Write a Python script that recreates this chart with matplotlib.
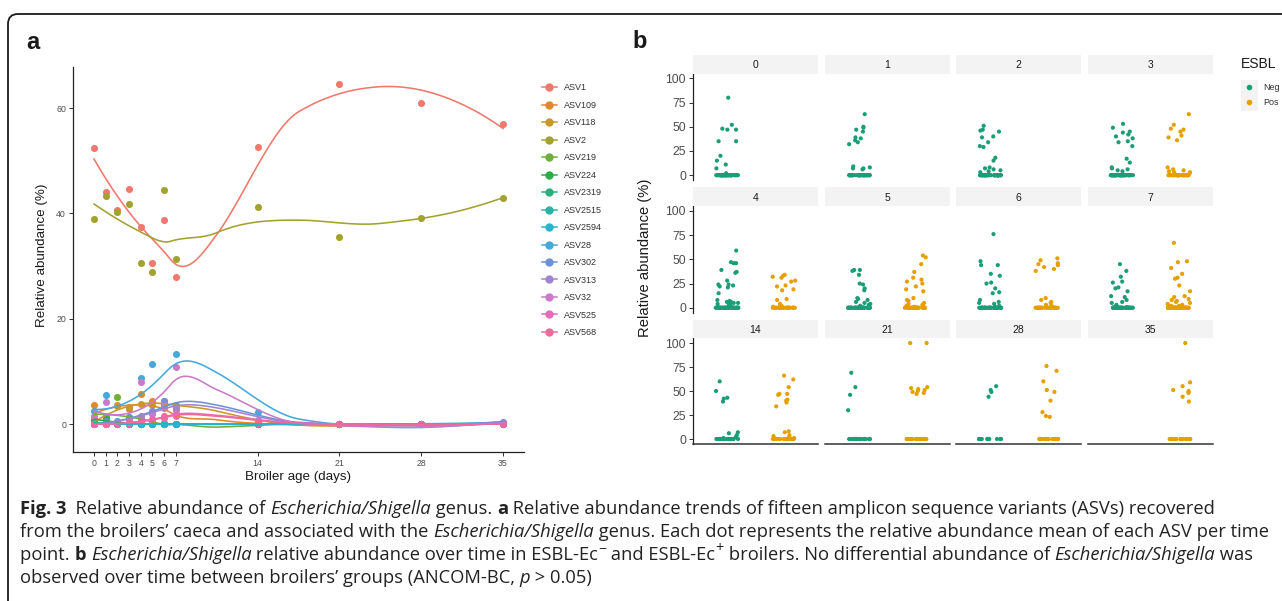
import numpy as np
import matplotlib
matplotlib.use('Agg')
import matplotlib.pyplot as plt
from matplotlib.lines import Line2D
from matplotlib.patches import FancyBboxPatch, Rectangle
import seaborn as sns

# ---------------- data ----------------
days = [0, 1, 2, 3, 4, 5, 6, 7, 14, 21, 28, 35]
asv_names = ['ASV1', 'ASV109', 'ASV118', 'ASV2', 'ASV219', 'ASV224', 'ASV2319', 'ASV2515',
             'ASV2594', 'ASV28', 'ASV302', 'ASV313', 'ASV32', 'ASV525', 'ASV568']
asv_colors = ['#F1786C', '#E0892A', '#C8982A', '#A2A22E', '#6FAF3A', '#2BAE4A', '#2BB07C', '#2BB3A6',
              '#2BB2CE', '#47A8DC', '#6B92D6', '#A283D2', '#C97BC9', '#E56CB7', '#EE6A9C']
# mean relative abundance (%) per ASV, one value per day
asv_values = [
    [52.4, 44.0, 40.6, 44.6, 37.4, 30.5, 38.7, 27.9, 52.7, 64.6, 61.0, 56.9],  # ASV1
    [3.7, 0.0, 3.7, 2.8, 5.7, 4.4, 0.3, 2.7, 0.0, 0.0, 0.0, 0.0],            # ASV109
    [0.5, 1.0, 3.5, 3.3, 3.9, 3.7, 3.7, 3.7, 0.0, 0.0, 0.0, 0.0],            # ASV118
    [38.9, 43.4, 40.3, 41.8, 30.6, 28.9, 44.4, 31.3, 41.3, 35.6, 39.2, 43.0],  # ASV2
    [1.0, 1.5, 5.2, 0.0, 0.0, 0.0, 0.0, 0.0, 0.0, 0.0, 0.0, 0.0],            # ASV219
    [0.8, 1.0, 0.0, 0.3, 0.0, 0.0, 0.0, 0.0, 0.0, 0.0, 0.0, 0.0],            # ASV224
    [0.2, 0.3, 0.0, 0.0, 0.0, 0.0, 0.0, 0.0, 0.1, 0.0, 0.0, 0.0],            # ASV2319
    [0.0, 0.2, 0.1, 0.0, 0.0, 0.0, 0.0, 0.0, 0.0, 0.0, 0.0, 0.0],            # ASV2515
    [0.1, 0.0, 0.0, 0.0, 0.0, 0.0, 0.0, 0.0, 0.0, 0.0, 0.0, 0.3],            # ASV2594
    [2.5, 5.5, 0.6, 1.3, 8.8, 11.5, 4.4, 13.4, 2.3, 0.0, 0.0, 0.3],          # ASV28
    [0.0, 0.5, 0.3, 1.3, 1.0, 2.5, 4.4, 3.5, 0.8, 0.0, 0.0, 0.4],            # ASV302
    [0.0, 0.3, 0.2, 0.8, 1.5, 2.2, 3.8, 3.0, 0.6, 0.0, 0.0, 0.2],            # ASV313
    [1.5, 4.2, 0.3, 0.5, 7.9, 2.0, 3.0, 10.8, 0.5, 0.0, 0.0, 0.0],           # ASV32
    [0.0, 0.0, 0.0, 0.3, 0.5, 1.0, 1.2, 2.0, 0.4, 0.0, 0.0, 0.0],            # ASV525
    [0.0, 0.0, 0.2, 0.2, 0.4, 0.8, 1.5, 1.6, 0.3, 0.0, 0.0, 0.0],            # ASV568
]

# panel b: per-sample Escherichia/Shigella relative abundance (%), non-zero values
b_days = [0, 1, 2, 3, 4, 5, 6, 7, 14, 21, 28, 35]
b_neg = [
    [80, 52, 48, 47, 47, 35, 35, 20, 15, 11, 7, 2],
    [63, 50, 49, 47, 45, 39, 38, 36, 34, 32, 9, 8, 7, 7, 6],
    [51, 47, 46, 45, 40, 39, 34, 30, 29, 18, 15, 8, 7, 6, 5, 4, 3],
    [53, 49, 45, 44, 42, 40, 38, 35, 34, 30, 17, 13, 8, 7, 6, 5, 4],
    [59, 47, 46, 46, 39, 37, 36, 28, 24, 24, 23, 22, 21, 15, 8, 7, 6, 6, 5, 5, 4, 3, 3, 2],
    [39, 39, 38, 34, 25, 24, 20, 18, 10, 9, 8, 6, 5, 4, 3, 2],
    [76, 48, 44, 44, 35, 33, 26, 25, 20, 16, 15, 8, 6, 5, 4, 2],
    [45, 38, 32, 27, 26, 21, 20, 17, 12, 11, 8, 6, 5, 3, 2],
    [60, 50, 43, 42, 39, 7, 6, 4, 2, 1],
    [69, 54, 46, 30],
    [55, 51, 49, 44],
    [],
]
b_pos = [
    [], [], [],
    [63, 52, 48, 47, 45, 41, 39, 36, 8, 6, 5, 4, 3, 3, 2],
    [34, 33, 32, 31, 28, 27, 23, 22, 19, 18, 9, 8, 4, 3, 2, 1],
    [54, 52, 45, 37, 31, 29, 27, 25, 22, 19, 17, 10, 8, 7, 5, 4, 3, 2, 2, 1],
    [51, 49, 46, 45, 44, 42, 40, 38, 10, 8, 6, 5, 3, 2],
    [67, 48, 47, 41, 35, 31, 30, 23, 17, 12, 11, 9, 8, 7, 6, 5, 4, 3, 2, 2, 1],
    [66, 62, 54, 47, 47, 46, 41, 40, 38, 34, 8, 7, 4, 3, 2, 1],
    [100, 100, 54, 53, 52, 51, 50, 49, 48, 47],
    [76, 71, 60, 51, 49, 40, 28, 24, 23],
    [100, 59, 55, 51, 50, 49, 48, 44, 39],
]
# number of samples with zero abundance
b_neg_zeros = [45, 40, 45, 45, 50, 35, 35, 45, 25, 20, 12, 0]
b_pos_zeros = [0, 0, 0, 30, 25, 30, 25, 40, 30, 25, 20, 20]
esbl_groups = ['Neg', 'Pos']
esbl_colors = {'Neg': '#1B9E77', 'Pos': '#E69F00'}

# ---------------- helpers ----------------
W, H = 1282, 601
FONT = ['Liberation Sans', 'DejaVu Sans']
CAPFONT = ['Liberation Sans Narrow', 'Open Sans', 'DejaVu Sans']


def box(left, top, right, bottom):
    return [left / W, 1 - bottom / H, (right - left) / W, (bottom - top) / H]


def local_fit(x, y, x0, span=0.75):
    # local quadratic with tricube weights -> value and slope at x0
    q = int(np.floor(len(x) * span))
    d = np.abs(x - x0)
    h = np.sort(d)[q - 1]
    w = np.clip(1 - (d / h) ** 3, 0, None) ** 3
    X = np.column_stack([np.ones_like(x), x - x0, (x - x0) ** 2])
    sw = np.sqrt(w)
    beta = np.linalg.lstsq(X * sw[:, None], y * sw, rcond=None)[0]
    return beta[0], beta[1]


def loess(x, y, grid):
    # fit at vertices, then cubic Hermite interpolation (like R loess surface="interpolate")
    x = np.asarray(x, float)
    y = np.asarray(y, float)
    ux = np.unique(x)
    verts = np.concatenate([[ux[0]], (ux[:-1] + ux[1:]) / 2, [ux[-1]]])
    fits = np.array([local_fit(x, y, v) for v in verts])
    out = []
    for g in grid:
        i = min(np.searchsorted(verts, g, side='right') - 1, len(verts) - 2)
        hh = verts[i + 1] - verts[i]
        t = (g - verts[i]) / hh
        y0, m0 = fits[i]
        y1, m1 = fits[i + 1]
        out.append((2 * t**3 - 3 * t**2 + 1) * y0 + (t**3 - 2 * t**2 + t) * hh * m0
                   + (-2 * t**3 + 3 * t**2) * y1 + (t**3 - t**2) * hh * m1)
    return np.array(out)


plt.rcParams['font.family'] = FONT
fig = plt.figure(figsize=(W / 100, H / 100), dpi=100)

# ---------------- panel a ----------------
ax = fig.add_axes(box(73, 67, 524, 452))
grid = np.linspace(0, 35, 120)
for name, col, vals in zip(asv_names, asv_colors, asv_values):
    ax.scatter(days, vals, s=26, color=col, zorder=3, linewidths=0)
for name, col, vals in zip(asv_names, asv_colors, asv_values):
    ax.plot(grid, loess(days, vals, grid), color=col, lw=1.15, zorder=4)

ax.set_xlim(-1.8, 36.8)
ax.set_ylim(-5.3, 67.8)
ax.set_xticks(days)
ax.set_yticks([0, 20, 40, 60])
ax.tick_params(labelsize=6.3, labelcolor='#4d4d4d', color='#333333', length=3, width=0.7, pad=2)
for s in ['top', 'right']:
    ax.spines[s].set_visible(False)
for s in ['left', 'bottom']:
    ax.spines[s].set_color('#222222')
    ax.spines[s].set_linewidth(0.9)

handles = [Line2D([], [], color=c, marker='o', markersize=5, lw=1.1) for c in asv_colors]
fig.legend(handles, asv_names, loc='upper left', bbox_to_anchor=(542 / W, 1 - 83.3 / H),
           frameon=False, fontsize=6.5, handlelength=1.66, handletextpad=0.78,
           labelspacing=0.94, borderpad=0, borderaxespad=0, labelcolor='#333333')

# ---------------- panel b ----------------
cols = [(693, 818), (825, 950), (956, 1081), (1088, 1213)]
rows = [(73.5, 180), (206, 312.6), (338.2, 443.8)]
strip_h = 18.5
np.random.seed(3)
for i, day in enumerate(b_days):
    r, c = divmod(i, 4)
    (x0, x1), (y0, y1) = cols[c], rows[r]
    bx = fig.add_axes(box(x0, y0, x1, y1))
    vals = b_neg[i] + [0] * b_neg_zeros[i] + b_pos[i] + [0] * b_pos_zeros[i]
    grp = ['Neg'] * (len(b_neg[i]) + b_neg_zeros[i]) + ['Pos'] * (len(b_pos[i]) + b_pos_zeros[i])
    sns.stripplot(x=grp, y=vals, hue=grp, order=esbl_groups, hue_order=esbl_groups,
                  palette=esbl_colors, jitter=0.2, size=3.0, linewidth=0, legend=False, ax=bx)
    bx.set_xlim(-0.6, 1.6)
    bx.set_ylim(-5, 105)
    bx.set_xlabel('')
    bx.set_ylabel('')
    bx.set_xticks([])
    bx.set_yticks([0, 25, 50, 75, 100])
    bx.tick_params(labelsize=8.8, labelcolor='#4d4d4d', color='#333333', length=3, width=0.7, pad=2)
    for s in ['top', 'right']:
        bx.spines[s].set_visible(False)
    if c == 0:
        bx.spines['left'].set_color('#222222')
        bx.spines['left'].set_linewidth(0.9)
    else:
        bx.spines['left'].set_visible(False)
        bx.tick_params(left=False, labelleft=False)
    if r == 2:
        bx.spines['bottom'].set_color('#333333')
        bx.spines['bottom'].set_linewidth(1.1)
    else:
        bx.spines['bottom'].set_visible(False)

    sx = fig.add_axes(box(x0, y0 - strip_h, x1, y0))
    sx.set_facecolor('#f3f3f3')
    sx.set_xticks([])
    sx.set_yticks([])
    for s in sx.spines.values():
        s.set_visible(False)
    sx.text(0.5, 0.45, str(day), ha='center', va='center', fontsize=7.5, color='#1a1a1a',
            transform=sx.transAxes)

esbl_handles = [Line2D([], [], color=esbl_colors[g], marker='o', ls='', markersize=3.0) for g in esbl_groups]
fig.legend(esbl_handles, esbl_groups, loc='upper left',
           bbox_to_anchor=(1243.6 / W, 1 - 82.7 / H), frameon=False, fontsize=6.5,
           handlelength=1.2, handletextpad=0.95, labelspacing=0.75,
           borderpad=0, borderaxespad=0, labelcolor='#333333')

# ---------------- overlay: frame, labels, caption ----------------
ov = fig.add_axes([0, 0, 1, 1], zorder=-1)
ov.set_xlim(0, W)
ov.set_ylim(H, 0)
ov.axis('off')
ov.add_patch(FancyBboxPatch((8, 14), 1400, 700, boxstyle='round,pad=0,rounding_size=10',
                            fill=False, lw=1.3, ec='#1a1a1a'))
ov.add_patch(Rectangle((1240.7, 80), 17.6, 31, color='#f3f3f3', lw=0))
ov.text(1241, 64, 'ESBL', fontsize=10, va='center', color='#1a1a1a')

ov.text(26, 49, 'a', fontsize=17, fontweight='bold', color='#1a1a1a', va='baseline')
ov.text(632, 48, 'b', fontsize=17, fontweight='bold', color='#1a1a1a', va='baseline')
ov.text(42, 255, 'Relative abundance (%)', rotation=90, ha='center', va='center',
        fontsize=9.6, color='#1a1a1a')
ov.text(298.5, 477, 'Broiler age (days)', ha='center', va='center', fontsize=9.6, color='#1a1a1a')
ov.text(645, 258, 'Relative abundance (%)', rotation=90, ha='center', va='center',
        fontsize=10.6, color='#1a1a1a')

cap_lines = [
    [('Fig. 3', 'b'), ('  Relative abundance of ', 'r'), ('Escherichia/Shigella', 'i'), (' genus. ', 'r'),
     ('a', 'b'), (' Relative abundance trends of fifteen amplicon sequence variants (ASVs) recovered', 'r')],
    [('from the broilers\u2019 caeca and associated with the ', 'r'), ('Escherichia/Shigella', 'i'),
     (' genus. Each dot represents the relative abundance mean of each ASV per time', 'r')],
    [('point. ', 'r'), ('b', 'b'), (' ', 'r'), ('Escherichia/Shigella', 'i'),
     (' relative abundance over time in ESBL-Ec', 'r'), ('\u2212', 'sup'), (' and ESBL-Ec', 'r'),
     ('+', 'sup'), (' broilers. No differential abundance of ', 'r'), ('Escherichia/Shigella', 'i'),
     (' was', 'r')],
    [('observed over time between broilers\u2019 groups (ANCOM-BC, ', 'r'), ('p', 'i'), (' > 0.05)', 'r')],
]
cap_base = [514, 537, 560, 583]
renderer = fig.canvas.get_renderer()


def seg_kw(style, fs):
    kw = dict(fontsize=fs, family=CAPFONT, color='#222222', va='baseline')
    if style == 'b':
        kw['fontweight'] = 'bold'
    if style == 'i':
        kw['fontstyle'] = 'italic'
    if style == 'sup':
        kw['fontsize'] = fs * 0.78
    return kw


def seg_width(txt, kw):
    t1 = ov.text(0, 0, '|' + txt + '|', **kw)
    t2 = ov.text(0, 0, '||', **kw)
    w = t1.get_window_extent(renderer).width - t2.get_window_extent(renderer).width
    t1.remove()
    t2.remove()
    return w


def line_width(segs, fs):
    return sum(seg_width(t, seg_kw(s, fs)) for t, s in segs)


cap_fs = 10 * (1265 - 20) / line_width(cap_lines[1], 10)
for segs, yb in zip(cap_lines, cap_base):
    x = 20
    for txt, style in segs:
        kw = seg_kw(style, cap_fs)
        yy = yb - cap_fs * 1.389 * 0.42 if style == 'sup' else yb
        ov.text(x, yy, txt, **kw)
        x += seg_width(txt, kw)

fig.savefig('out.png', dpi=100)
